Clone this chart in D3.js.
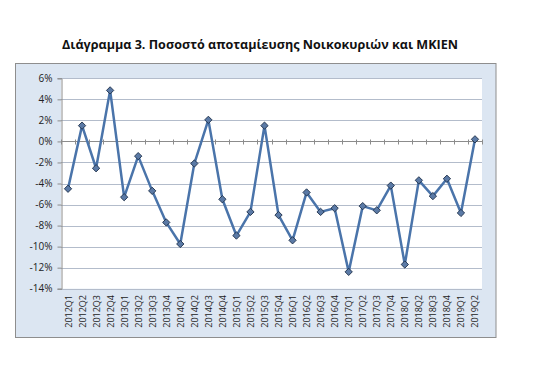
<!DOCTYPE html>
<html><head><meta charset="utf-8">
<script src="https://cdn.jsdelivr.net/npm/d3@7"></script>
<style>body{margin:0;background:#fff}svg{display:block}</style>
</head><body>
<svg id="c" width="552" height="374"></svg>
<script>
const titleText = "Διάγραμμα 3. Ποσοστό αποταμίευσης Νοικοκυριών και ΜΚΙΕΝ";
const categories = ["2012Q1","2012Q2","2012Q3","2012Q4","2013Q1","2013Q2","2013Q3","2013Q4","2014Q1","2014Q2","2014Q3","2014Q4","2015Q1","2015Q2","2015Q3","2015Q4","2016Q1","2016Q2","2016Q3","2016Q4","2017Q1","2017Q2","2017Q3","2017Q4","2018Q1","2018Q2","2018Q3","2018Q4","2019Q1","2019Q2"];
const savingRate = [-4.5,1.5,-2.55,4.85,-5.3,-1.4,-4.7,-7.7,-9.75,-2.1,2.05,-5.5,-8.95,-6.7,1.5,-7.0,-9.4,-4.85,-6.7,-6.35,-12.4,-6.15,-6.55,-4.2,-11.7,-3.7,-5.2,-3.55,-6.8,0.2];
const yTicks = [6,4,2,0,-2,-4,-6,-8,-10,-12,-14];

const svg = d3.select("#c");
const font = "'Open Sans','Liberation Sans',sans-serif";

svg.append("text").attr("x",260).attr("y",49).attr("text-anchor","middle")
  .attr("font-family",font).attr("font-weight","bold").attr("font-size",12.5)
  .attr("textLength",396).attr("lengthAdjust","spacingAndGlyphs")
  .attr("fill","#111").text(titleText);

svg.append("rect").attr("x",15.5).attr("y",63.5).attr("width",480.5).attr("height",274)
  .attr("fill","#dce6f2").attr("stroke","#8e8e8e").attr("stroke-width",1);

const L=61, R=482, T=78.3, B=288.7;
const x = d3.scaleBand().domain(categories).range([L,R]).padding(0);
const y = d3.scaleLinear().domain([-14,6]).range([B,T]);

svg.append("rect").attr("x",L).attr("y",T).attr("width",R-L).attr("height",B-T).attr("fill","#fff");

// gridlines
svg.append("g").selectAll("line").data(yTicks.filter(d=>d!==0)).join("line")
  .attr("x1",L).attr("x2",R).attr("y1",d=>Math.round(y(d))+0.5).attr("y2",d=>Math.round(y(d))+0.5)
  .attr("stroke","#b3bccb").attr("stroke-width",1);

// y axis
const yAxis = d3.axisLeft(y).tickValues(yTicks).tickSize(4).tickFormat(d=>d+"%");
const gy = svg.append("g").attr("transform",`translate(${L+0.5},0)`).call(yAxis);
gy.select(".domain").attr("stroke","#8c8c8c");
gy.selectAll(".tick line").attr("stroke","#8c8c8c");
gy.selectAll(".tick text").attr("font-family",font).attr("font-size",10).attr("fill","#222").attr("x",-9);

// zero axis with category ticks
const y0 = Math.round(y(0))+0.5;
svg.append("line").attr("x1",L).attr("x2",R).attr("y1",y0).attr("y2",y0).attr("stroke","#8c8c8c");
svg.append("g").selectAll("line").data(categories.concat(["end"])).join("line")
  .attr("x1",(d,i)=>Math.round(L+i*x.step())+0.5).attr("x2",(d,i)=>Math.round(L+i*x.step())+0.5)
  .attr("y1",y0-2).attr("y2",y0+3).attr("stroke","#8c8c8c");

// x labels
svg.append("g").selectAll("text").data(categories).join("text")
  .attr("transform",d=>`translate(${x(d)+x.bandwidth()/2+3.5},295) rotate(-90)`)
  .attr("text-anchor","end").attr("font-family",font).attr("font-size",9)
  .attr("fill","#222").text(d=>d);

// line
const line = d3.line().x((d,i)=>x(categories[i])+x.bandwidth()/2).y(d=>y(d));
svg.append("path").datum(savingRate).attr("d",line).attr("fill","none")
  .attr("stroke","#4a74aa").attr("stroke-width",2.5).attr("stroke-linejoin","round");

// markers
svg.append("g").selectAll("path").data(savingRate).join("path")
  .attr("d",d3.symbol().type(d3.symbolDiamond2).size(34))
  .attr("transform",(d,i)=>`translate(${x(categories[i])+x.bandwidth()/2},${y(d)})`)
  .attr("fill","#5b7aa6").attr("stroke","#1d2f48").attr("stroke-width",0.9);
</script>
</body></html>
